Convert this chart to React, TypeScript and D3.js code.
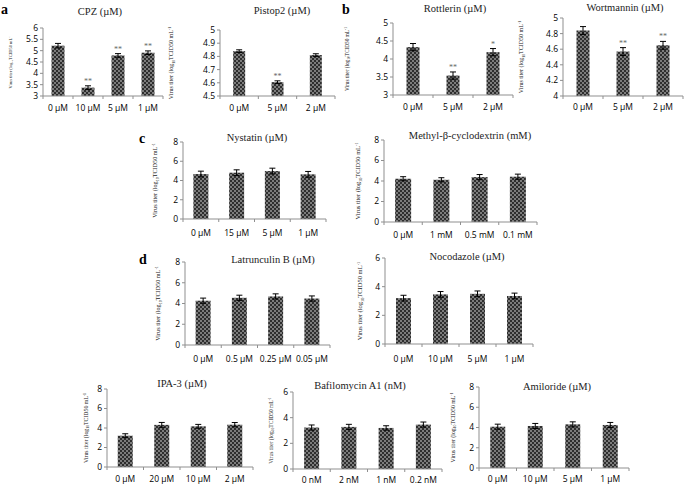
import React from "react";
import * as d3 from "d3";

// ---------- DATA ----------
const cpzCategories = ["0 µM", "10 µM", "5 µM", "1 µM"];
const cpzValues = [5.22, 3.37, 4.79, 4.91];
const cpzErrors = [0.1, 0.08, 0.08, 0.08];
const cpzStars = ["", "**", "**", "**"];
const cpzTicks = [3, 3.5, 4, 4.5, 5, 5.5, 6];

const pistopCategories = ["0 µM", "5 µM", "2 µM"];
const pistopValues = [4.84, 4.605, 4.81];
const pistopErrors = [0.01, 0.01, 0.01];
const pistopStars = ["", "**", ""];
const pistopTicks = [4.5, 4.6, 4.7, 4.8, 4.9, 5];

const rottCategories = ["0 µM", "5 µM", "2 µM"];
const rottValues = [4.33, 3.54, 4.19];
const rottErrors = [0.1, 0.1, 0.1];
const rottStars = ["", "**", "*"];
const rottTicks = [3, 3.5, 4, 4.5, 5];

const wortCategories = ["0 µM", "5 µM", "2 µM"];
const wortValues = [4.84, 4.57, 4.65];
const wortErrors = [0.05, 0.05, 0.05];
const wortStars = ["", "**", "**"];
const wortTicks = [4, 4.2, 4.4, 4.6, 4.8, 5];

const nysCategories = ["0 µM", "15 µM", "5 µM", "1 µM"];
const nysValues = [4.67, 4.81, 4.98, 4.64];
const nysErrors = [0.3, 0.3, 0.3, 0.3];
const nysTicks = [0, 2, 4, 6, 8];

const mbcdCategories = ["0 µM", "1 mM", "0.5 mM", "0.1 mM"];
const mbcdValues = [4.22, 4.12, 4.38, 4.42];
const mbcdErrors = [0.2, 0.2, 0.25, 0.25];
const mbcdTicks = [0, 2, 4, 6, 8];

const latCategories = ["0 µM", "0.5 µM", "0.25 µM", "0.05 µM"];
const latValues = [4.27, 4.55, 4.68, 4.48];
const latErrors = [0.25, 0.25, 0.25, 0.25];
const latTicks = [0, 2, 4, 6, 8];

const nocCategories = ["0 µM", "10 µM", "5 µM", "1 µM"];
const nocValues = [3.2, 3.46, 3.5, 3.35];
const nocErrors = [0.2, 0.2, 0.2, 0.2];
const nocTicks = [0, 2, 4, 6];

const ipaCategories = ["0 µM", "20 µM", "10 µM", "2 µM"];
const ipaValues = [3.21, 4.32, 4.17, 4.34];
const ipaErrors = [0.2, 0.25, 0.2, 0.22];
const ipaTicks = [0, 2, 4, 6, 8];

const bafCategories = ["0 nM", "2 nM", "1 nM", "0.2 nM"];
const bafValues = [3.23, 3.28, 3.2, 3.46];
const bafErrors = [0.2, 0.2, 0.17, 0.2];
const bafTicks = [0, 2, 4, 6];

const amiCategories = ["0 µM", "10 µM", "5 µM", "1 µM"];
const amiValues = [4.08, 4.15, 4.31, 4.25];
const amiErrors = [0.25, 0.25, 0.25, 0.25];
const amiTicks = [0, 2, 4, 6, 8];

const titles = [
  "CPZ (µM)",
  "Pistop2 (µM)",
  "Rottlerin (µM)",
  "Wortmannin (µM)",
  "Nystatin  (µM)",
  "Methyl-β-cyclodextrin (mM)",
  "Latrunculin B (µM)",
  "Nocodazole (µM)",
  "IPA-3 (µM)",
  "Bafilomycin A1 (nM)",
  "Amiloride (µM)",
];

const panelLetters = ["a", "b", "c", "d"];

// ---------- LAYOUT ----------
type Panel = {
  title: string;
  categories: string[];
  values: number[];
  errors: number[];
  stars?: string[];
  ticks: number[];
  axisX: number;
  xEnd: number;
  yTop: number;
  yBot: number;
  barW: number;
  titleX: number;
  titleY: number;
  labelX: number;
  labelFont: number;
  xLabelY: number;
};

const panels: Panel[] = [
  { title: titles[0], categories: cpzCategories, values: cpzValues, errors: cpzErrors, stars: cpzStars, ticks: cpzTicks,
    axisX: 43, xEnd: 163, yTop: 28, yBot: 96, barW: 13, titleX: 100, titleY: 15, labelX: 12, labelFont: 4.4, xLabelY: 111 },
  { title: titles[1], categories: pistopCategories, values: pistopValues, errors: pistopErrors, stars: pistopStars, ticks: pistopTicks,
    axisX: 220, xEnd: 335, yTop: 30, yBot: 96, barW: 12, titleX: 282, titleY: 14, labelX: 173, labelFont: 6, xLabelY: 111 },
  { title: titles[2], categories: rottCategories, values: rottValues, errors: rottErrors, stars: rottStars, ticks: rottTicks,
    axisX: 393, xEnd: 513, yTop: 23, yBot: 95, barW: 13, titleX: 455, titleY: 12, labelX: 349, labelFont: 5.3, xLabelY: 110 },
  { title: titles[3], categories: wortCategories, values: wortValues, errors: wortErrors, stars: wortStars, ticks: wortTicks,
    axisX: 563, xEnd: 683, yTop: 18, yBot: 96, barW: 13, titleX: 625, titleY: 11, labelX: 523, labelFont: 6, xLabelY: 110 },
  { title: titles[4], categories: nysCategories, values: nysValues, errors: nysErrors, ticks: nysTicks,
    axisX: 183, xEnd: 326, yTop: 142, yBot: 219, barW: 15, titleX: 257, titleY: 141, labelX: 157, labelFont: 6.2, xLabelY: 236 },
  { title: titles[5], categories: mbcdCategories, values: mbcdValues, errors: mbcdErrors, ticks: mbcdTicks,
    axisX: 384, xEnd: 537, yTop: 140, yBot: 222, barW: 16, titleX: 470, titleY: 139, labelX: 360, labelFont: 6.4, xLabelY: 238 },
  { title: titles[6], categories: latCategories, values: latValues, errors: latErrors, ticks: latTicks,
    axisX: 185, xEnd: 330, yTop: 262, yBot: 345, barW: 15, titleX: 273, titleY: 263, labelX: 160, labelFont: 6.2, xLabelY: 362 },
  { title: titles[7], categories: nocCategories, values: nocValues, errors: nocErrors, ticks: nocTicks,
    axisX: 385, xEnd: 533, yTop: 258, yBot: 344, barW: 15, titleX: 467, titleY: 260, labelX: 362, labelFont: 6.5, xLabelY: 362 },
  { title: titles[8], categories: ipaCategories, values: ipaValues, errors: ipaErrors, ticks: ipaTicks,
    axisX: 107, xEnd: 253, yTop: 389, yBot: 467, barW: 15, titleX: 182, titleY: 387, labelX: 88, labelFont: 5.8, xLabelY: 482 },
  { title: titles[9], categories: bafCategories, values: bafValues, errors: bafErrors, ticks: bafTicks,
    axisX: 293, xEnd: 442, yTop: 392, yBot: 469, barW: 15, titleX: 360, titleY: 389, labelX: 273, labelFont: 5.5, xLabelY: 483 },
  { title: titles[10], categories: amiCategories, values: amiValues, errors: amiErrors, ticks: amiTicks,
    axisX: 479, xEnd: 629, yTop: 387, yBot: 468, barW: 15, titleX: 557, titleY: 390, labelX: 455, labelFont: 5.8, xLabelY: 482 },
];

const letterPos = [
  [1, 14],
  [342, 14],
  [139, 143],
  [139, 264],
];

const AXIS = "#8f8f8f";
const SANS = "'Open Sans', 'Liberation Sans', sans-serif";
const SERIF = "'Liberation Serif', 'Times New Roman', serif";
const fmt = d3.format("~g");

function PanelChart({ p }: { p: Panel }) {
  const y = d3.scaleLinear().domain([p.ticks[0], p.ticks[p.ticks.length - 1]]).range([p.yBot, p.yTop]);
  const x = d3.scaleBand<string>().domain(p.categories).range([p.axisX, p.xEnd]);
  const bw = x.bandwidth();
  const edges = p.categories.map((c) => x(c)!).concat([p.xEnd]);
  const midY = (p.yTop + p.yBot) / 2;
  return (
    <g>
      <text x={p.titleX} y={p.titleY} fontFamily={SERIF} fontSize={10.5} fontWeight="normal" textAnchor="middle" fill="#222">
        {p.title}
      </text>
      <text
        transform={`translate(${p.labelX},${midY}) rotate(-90)`}
        fontFamily={SERIF}
        fontSize={p.labelFont}
        textAnchor="middle"
        fill="#222"
      >
        Virus titer (log<tspan fontSize={p.labelFont * 0.65} dy={p.labelFont * 0.25}>10</tspan>
        <tspan dy={-p.labelFont * 0.25}>TCID50 mL</tspan>
        <tspan fontSize={p.labelFont * 0.65} dy={-p.labelFont * 0.35}>-1</tspan>
      </text>
      {p.categories.map((c, i) => {
        const cx = x(c)! + bw / 2;
        const v = p.values[i];
        return (
          <rect key={c} x={cx - p.barW / 2} y={y(v)} width={p.barW} height={p.yBot - y(v)} fill="url(#chk)" />
        );
      })}
      <line x1={p.axisX} x2={p.axisX} y1={p.yTop} y2={p.yBot} stroke={AXIS} strokeWidth={1} />
      <line x1={p.axisX} x2={p.xEnd} y1={p.yBot} y2={p.yBot} stroke={AXIS} strokeWidth={1} />
      {p.ticks.map((t) => (
        <g key={t}>
          <line x1={p.axisX - 3} x2={p.axisX} y1={y(t)} y2={y(t)} stroke={AXIS} />
          <text x={p.axisX - 5} y={y(t)} dy="0.35em" textAnchor="end" fontFamily={SANS} fontSize={8.5} fill="#000">
            {fmt(t)}
          </text>
        </g>
      ))}
      {edges.map((e, i) => (
        <line key={i} x1={e} x2={e} y1={p.yBot} y2={p.yBot + 3} stroke={AXIS} />
      ))}
      {p.categories.map((c) => (
        <text key={c} x={x(c)! + bw / 2} y={p.xLabelY} textAnchor="middle" fontFamily={SANS} fontSize={8.5} fill="#000">
          {c}
        </text>
      ))}
      {p.categories.map((c, i) => {
        const cx = x(c)! + bw / 2;
        const v = p.values[i];
        const e = p.errors[i];
        const y1 = y(v + e);
        const y2 = y(v - e);
        return (
          <g key={c} stroke="#000" strokeWidth={1}>
            <line x1={cx} x2={cx} y1={y1} y2={y2} />
            <line x1={cx - 3} x2={cx + 3} y1={y1} y2={y1} />
            <line x1={cx - 3} x2={cx + 3} y1={y2} y2={y2} />
          </g>
        );
      })}
      {p.stars &&
        p.categories.map((c, i) =>
          p.stars![i] ? (
            <text key={c} x={x(c)! + bw / 2} y={y(p.values[i] + p.errors[i]) - 2} textAnchor="middle" fontFamily={SERIF} fontSize={8} fill="#666">
              {p.stars![i]}
            </text>
          ) : null
        )}
    </g>
  );
}

export default function App() {
  return (
    <svg width={685} height={487} style={{ position: "absolute", left: 0, top: 0, background: "#fff" }}>
      <defs>
        <pattern id="chk" width={4} height={4} patternUnits="userSpaceOnUse">
          <rect width={4} height={4} fill="#2e2e2e" />
          <rect width={2} height={2} fill="#7c7c7c" />
          <rect x={2} y={2} width={2} height={2} fill="#7c7c7c" />
        </pattern>
      </defs>
      <rect width={685} height={487} fill="#fff" />
      {panelLetters.map((l, i) => (
        <text key={l} x={letterPos[i][0]} y={letterPos[i][1]} fontFamily={SERIF} fontWeight="bold" fontSize={14} fill="#000">
          {l}
        </text>
      ))}
      {panels.map((p, i) => (
        <PanelChart key={i} p={p} />
      ))}
    </svg>
  );
}
